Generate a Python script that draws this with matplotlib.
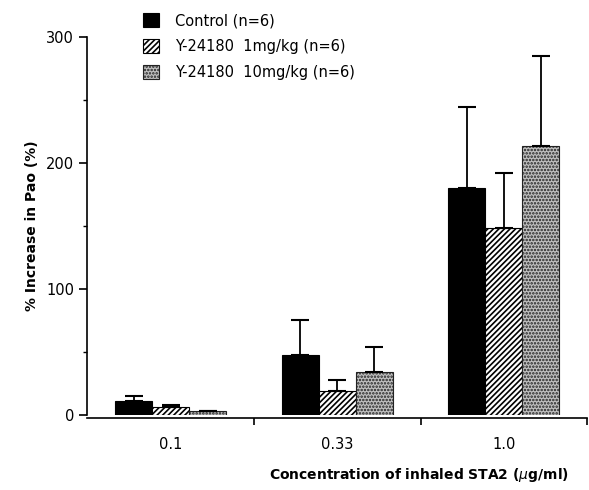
import matplotlib.pyplot as plt
import numpy as np

concentrations = ['0.1', '0.33', '1.0']
labels = ['Control (n=6)', 'Y-24180  1mg/kg (n=6)', 'Y-24180  10mg/kg (n=6)']
control = [11, 48, 180]
control_err = [4, 27, 64]
y1mg = [6, 19, 148]
y1mg_err = [2, 9, 44]
y10mg = [3.5, 34, 213]
y10mg_err = [0, 20, 72]

plt.rcParams['font.family'] = 'DejaVu Sans'
plt.rcParams['hatch.linewidth'] = 1.2

fig = plt.figure(figsize=(5.89, 4.9), dpi=100)
ax = fig.add_axes([0.148, 0.153, 0.849, 0.772])

x = np.arange(len(concentrations))
w = 0.222
styles = [dict(color='black', edgecolor='black'),
          dict(color='white', edgecolor='black', hatch='//////'),
          dict(color='#c0c0c0', edgecolor='#222222', hatch='.....')]
series = [(control, control_err), (y1mg, y1mg_err), (y10mg, y10mg_err)]

handles = []
for i, (vals, errs) in enumerate(series):
    pos = x + (i - 1) * w
    b = ax.bar(pos, vals, width=w, linewidth=0.8, label=labels[i], **styles[i])
    handles.append(b)
    ax.errorbar(pos, vals, yerr=[np.zeros(len(errs)), errs], fmt='none',
                ecolor='black', elinewidth=1.3, capsize=6.5, capthick=1.5)

ax.set_xlim(-0.5, 2.5)
ax.set_ylim(0, 300)
ax.spines['top'].set_visible(False)
ax.spines['right'].set_visible(False)
ax.spines['left'].set_linewidth(1.2)
ax.spines['bottom'].set_linewidth(1.2)
ax.spines['bottom'].set_position(('outward', 2))

ax.set_yticks([0, 100, 200, 300])
ax.set_yticks([50, 150, 250], minor=True)
ax.tick_params(axis='y', which='major', length=6, width=1.2, labelsize=10.5)
ax.tick_params(axis='y', which='minor', length=3, width=1)

ax.set_xticks(x)
ax.set_xticklabels(concentrations)
ax.set_xticks([0.5, 1.5, 2.5], minor=True)
ax.tick_params(axis='x', which='major', length=0, pad=14, labelsize=10.5)
ax.tick_params(axis='x', which='minor', length=5, width=1.2)

ax.set_ylabel('% Increase in Pao (%)', fontsize=10, fontweight='bold', labelpad=5)
fig.text(0.712, 0.012, 'Concentration of inhaled STA2 ($\\mu$g/ml)',
         ha='center', va='bottom', fontsize=10, fontweight='bold')

fig.legend(handles=handles, labels=labels, loc='upper left',
           bbox_to_anchor=(0.22, 1.0), frameon=False, fontsize=10.5,
           handlelength=1.1, handleheight=1.1, labelspacing=0.75,
           handletextpad=1.1)

fig.savefig('out.png', dpi=100)
